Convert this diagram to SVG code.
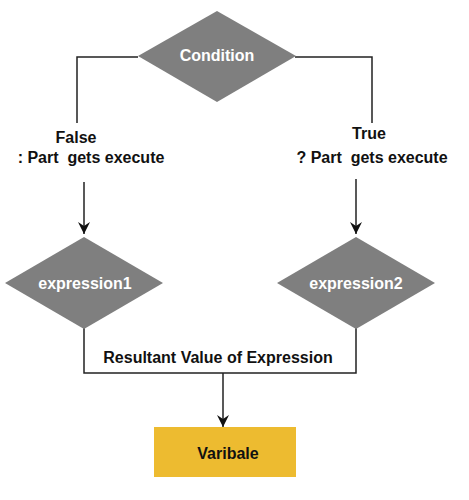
<svg xmlns="http://www.w3.org/2000/svg" width="469" height="500" viewBox="0 0 469 500">
<defs>
<style>
.dia{fill:#7f7f7f}
.wt{fill:#ffffff;font-family:"Liberation Sans",Arial,sans-serif;font-weight:bold;font-size:16px;text-anchor:middle}
.bt{fill:#111111;font-family:"Liberation Sans",Arial,sans-serif;font-weight:bold;font-size:16px;text-anchor:middle;white-space:pre}
.ln{fill:none;stroke:#222222;stroke-width:1.5}
</style>
<marker id="ah" viewBox="0 0 12 12" refX="12" refY="6" markerWidth="12" markerHeight="12" markerUnits="userSpaceOnUse" orient="auto">
<path d="M0,0 L12,6 L0,12 L4,6 Z" fill="#111111"/>
</marker>
</defs>
<rect width="469" height="500" fill="#ffffff"/>
<g id="connectors">
<polyline class="ln" points="138,57 77,57 77,123"/>
<polyline class="ln" points="295,57 372,57 372,123"/>
<line class="ln" x1="84" y1="182" x2="84" y2="234" marker-end="url(#ah)"/>
<line class="ln" x1="356" y1="179" x2="356" y2="234" marker-end="url(#ah)"/>
<polyline class="ln" points="84,328 84,373 356,373 356,328"/>
<line class="ln" x1="223" y1="373" x2="223" y2="427" marker-end="url(#ah)"/>
<text class="bt" x="76" y="143">False</text>
<text class="bt" x="91" y="163" xml:space="preserve">: Part  gets execute</text>
<text class="bt" x="369" y="139">True</text>
<text class="bt" x="372" y="163" xml:space="preserve">? Part  gets execute</text>
<text class="bt" x="218" y="363">Resultant Value of Expression</text>
</g>
<g id="condition">
<polygon class="dia" points="217,11 296,56 217,102 138,56"/>
<text class="wt" x="217" y="61">Condition</text>
</g>
<g id="expression1">
<polygon class="dia" points="84,237 163,283 84,329 5,283"/>
<text class="wt" x="85" y="289">expression1</text>
</g>
<g id="expression2">
<polygon class="dia" points="356,237 435,283 356,329 277,283"/>
<text class="wt" x="356" y="289">expression2</text>
</g>
<g id="variable">
<rect x="154" y="427" width="142" height="50" fill="#edbb30"/>
<text class="bt" x="228" y="459">Varibale</text>
</g>
</svg>
